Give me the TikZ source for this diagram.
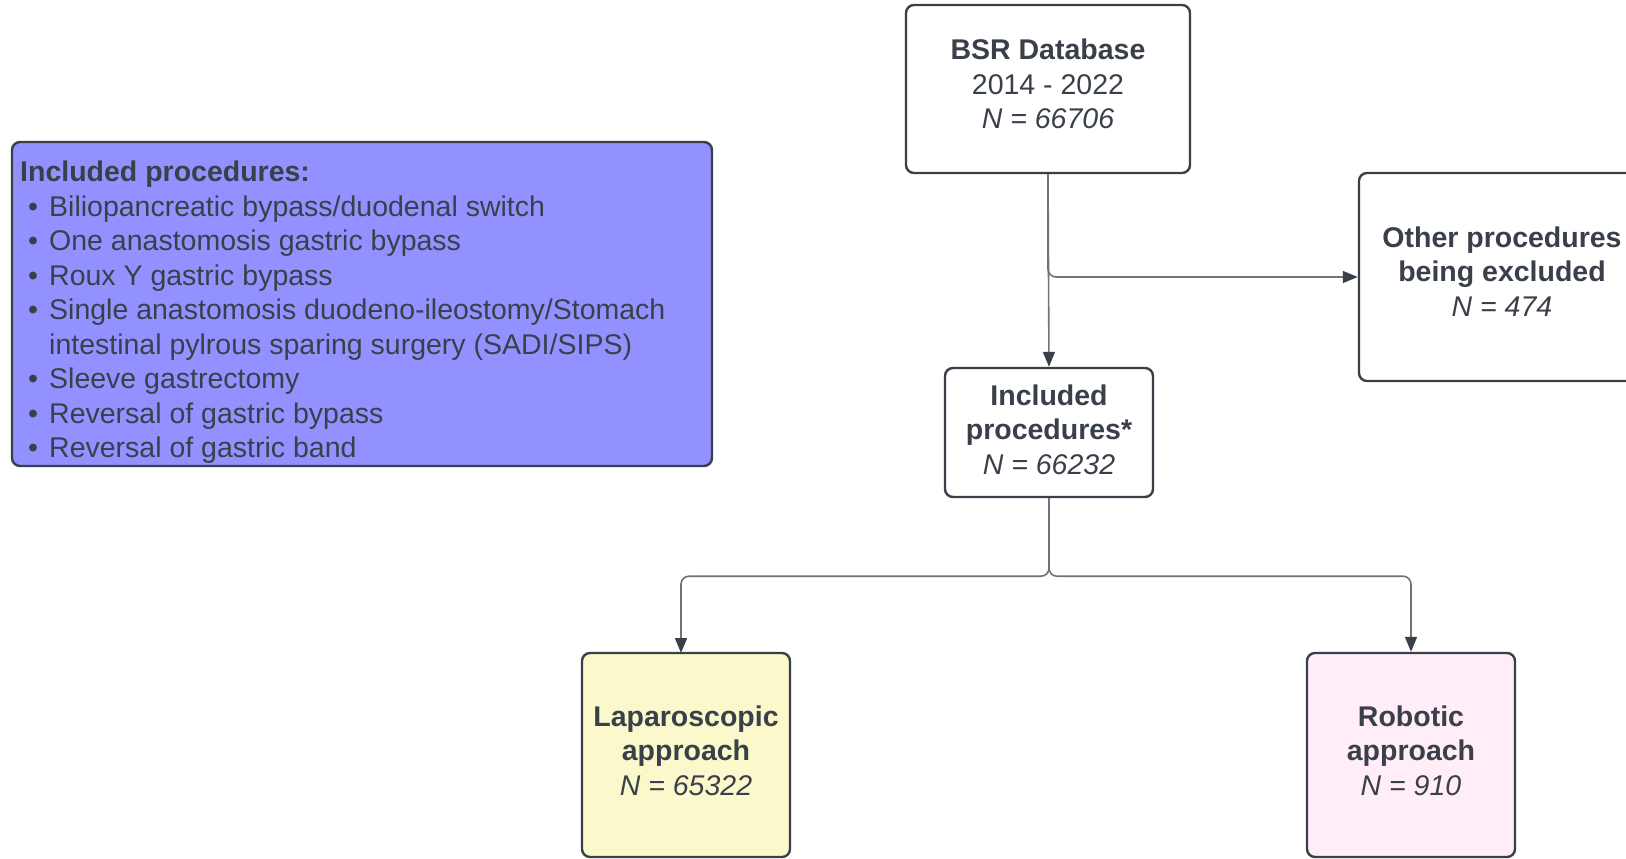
\documentclass[tikz,border=0pt]{standalone}
\usepackage{fontspec}
\setmainfont{Liberation Sans}
\usetikzlibrary{arrows.meta}
\definecolor{ink}{HTML}{3A404A}
\definecolor{linegray}{HTML}{6E737C}
\definecolor{blueproc}{HTML}{9391FF}
\definecolor{lapfill}{HTML}{FBF9CB}
\definecolor{robfill}{HTML}{FFEEF8}
\tikzset{
  box/.style={draw=ink, line width=2.4pt, rounded corners=8pt, fill=white,
    align=center, text=ink, inner sep=0pt,
    font=\fontsize{28.5}{34.5}\selectfont},
  conn/.style={draw=linegray, line width=1.6pt, rounded corners=8pt,
    -{Triangle[length=15pt,width=12pt,color=ink]}},
  plain/.style={draw=linegray, line width=1.6pt, rounded corners=8pt}
}
\begin{document}
\begin{tikzpicture}[x=1pt,y=-1pt]
\useasboundingbox (0,0) rectangle (1626,859);
% blue box
\node[box, fill=blueproc, minimum width=700pt, minimum height=324pt] (proc) at (362,304) {};
\node[anchor=north west, inner sep=0pt, align=left, text=ink,
  font=\fontsize{28.5}{34.5}\selectfont] (proctext) at (20,161)
  {\textbf{Included procedures:}\\
   \makebox[29pt][l]{\hspace{8pt}•}Biliopancreatic bypass/duodenal switch\\
   \makebox[29pt][l]{\hspace{8pt}•}One anastomosis gastric bypass\\
   \makebox[29pt][l]{\hspace{8pt}•}Roux Y gastric bypass\\
   \makebox[29pt][l]{\hspace{8pt}•}Single anastomosis duodeno-ileostomy/Stomach\\
   \makebox[29pt][l]{}intestinal pylrous sparing surgery (SADI/SIPS)\\
   \makebox[29pt][l]{\hspace{8pt}•}Sleeve gastrectomy\\
   \makebox[29pt][l]{\hspace{8pt}•}Reversal of gastric bypass\\
   \makebox[29pt][l]{\hspace{8pt}•}Reversal of gastric band};
% flow boxes
\node[box, minimum width=284pt, minimum height=168pt] (bsr) at (1048,89)
  {\textbf{BSR Database}\\2014 - 2022\\\textit{N = 66706}\\[-24pt]};
\node[box, minimum width=286pt, minimum height=208pt] (other) at (1502,277)
  {\textbf{Other procedures}\\\textbf{being excluded}\\\textit{N = 474}\\[-23pt]};
\node[box, minimum width=208pt, minimum height=129pt] (inc) at (1049,432.5)
  {\textbf{Included}\\\textbf{procedures*}\\\textit{N = 66232}\\[-28pt]};
\node[box, fill=lapfill, minimum width=208pt, minimum height=204pt] (lap) at (686,755)
  {\textbf{Laparoscopic}\\\textbf{approach}\\\textit{N = 65322}\\[-25pt]};
\node[box, fill=robfill, minimum width=208pt, minimum height=204pt] (rob) at (1411,755)
  {\textbf{Robotic}\\\textbf{approach}\\\textit{N = 910}\\[-25pt]};
\coordinate (lapin) at (681,653);
% connectors
\draw[conn] (bsr.south) -- (inc.north);
\draw[conn] (bsr.south) |- (other.west);
\draw[conn] (inc.south) -- ++(0,78) -| (lapin);
\draw[conn] (inc.south) -- ++(0,78) -| (rob.north);
\end{tikzpicture}
\end{document}
